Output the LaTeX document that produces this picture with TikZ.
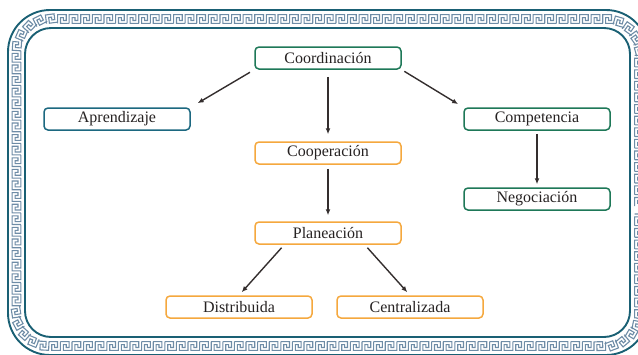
\documentclass[tikz,border=0pt]{standalone}
\usepackage{fontspec}
\setmainfont{Liberation Serif}
\usetikzlibrary{arrows.meta,decorations}

\definecolor{framec}{RGB}{26,96,116}
\definecolor{keyc}{RGB}{110,140,166}
\definecolor{greenc}{RGB}{30,120,88}
\definecolor{bluec}{RGB}{28,104,128}
\definecolor{orangec}{RGB}{245,168,62}
\definecolor{arrc}{RGB}{52,46,46}
\definecolor{txtc}{RGB}{38,34,34}

\newdimen\keyg \keyg=2.9pt
\pgfdeclaredecoration{greekkey}{initial}{%
  \state{initial}[width=4\keyg]{%
    \pgfsetcornersarced{\pgfpointorigin}% keep the key itself square
    \pgfpathmoveto{\pgfpoint{0pt}{-1.5\keyg}}%
    \pgfpathlineto{\pgfpoint{0pt}{1.5\keyg}}%
    \pgfpathlineto{\pgfpoint{3\keyg}{1.5\keyg}}%
    \pgfpathlineto{\pgfpoint{3\keyg}{-0.5\keyg}}%
    \pgfpathlineto{\pgfpoint{2\keyg}{-0.5\keyg}}%
    \pgfpathlineto{\pgfpoint{2\keyg}{0.5\keyg}}%
    \pgfpathlineto{\pgfpoint{1\keyg}{0.5\keyg}}%
    \pgfpathlineto{\pgfpoint{1\keyg}{-1.5\keyg}}%
    \pgfpathlineto{\pgfpoint{4\keyg}{-1.5\keyg}}%
  }%
  \state{final}{\pgfpathmoveto{\pgfpointdecoratedpathlast}}%
}

\begin{document}
\begin{tikzpicture}[
    x=1pt, y=-1pt,
    frameline/.style={draw=framec, line width=1.9pt},
    keyline/.style={draw=keyc, line width=1.1pt, line join=miter},
    box/.style={draw, line width=1.5pt, rounded corners=4pt, fill=white,
        minimum width=146pt, minimum height=22pt, inner sep=0pt,
        text=txtc, font=\fontsize{16}{16}\selectfont},
    gbox/.style={box, draw=greenc},
    bbox/.style={box, draw=bluec},
    obox/.style={box, draw=orangec},
    arr/.style={draw=arrc, line width=1.4pt, -{Latex[length=6pt,width=5pt]}}
]
\useasboundingbox (0,0) rectangle (638,354);

% border band
\draw[keyline, decorate, decoration=greekkey, rounded corners=34pt]
    (639,180) -- (639,346) -- (16.5,346) -- (16.5,19) -- (639,19) -- cycle;
\draw[frameline, rounded corners=42pt] (8,10) rectangle (648,355);
\draw[frameline, rounded corners=26pt] (25,28) rectangle (630,337);

\node[gbox] (co) at (328,58) {Coordinación};
\node[bbox] (ap) at (117,119) {Aprendizaje};
\node[gbox] (cm) at (537,119) {Competencia};
\node[obox] (cp) at (328,153) {Cooperación};
\node[gbox] (ne) at (537,199) {Negociación};
\node[obox] (pl) at (328,233) {Planeación};
\node[obox] (di) at (239,307) {Distribuida};
\node[obox] (ce) at (410,307) {Centralizada};

\draw[arr, shorten <=5pt, shorten >=8pt] (co.south west) -- (ap.north east);
\draw[arr, shorten <=3pt, shorten >=6pt] (co.south east) -- (cm.north west);
\draw[arr, shorten <=7pt, shorten >=7pt] (co.south) -- (cp.north);
\draw[arr, shorten <=4pt, shorten >=6pt] (cp.south) -- (pl.north);
\draw[arr, shorten <=3pt, shorten >=3pt] (cm.south) -- (ne.north);
\draw[arr, shorten <=4pt, shorten >=4pt] ([xshift=30pt]pl.south west) -- (di.north);
\draw[arr, shorten <=4pt, shorten >=4pt] ([xshift=-37pt]pl.south east) -- (ce.north);
\end{tikzpicture}
\end{document}
